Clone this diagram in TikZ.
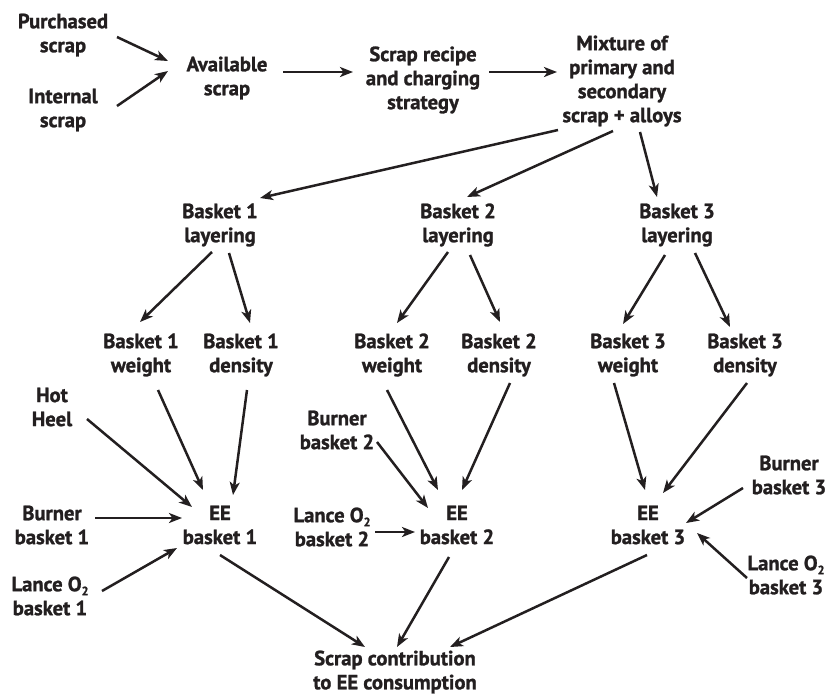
\documentclass[tikz,border=0pt]{standalone}
\usepackage{fontspec}
\setmainfont{PT Sans}[BoldFeatures={FakeBold=1.2}]
\usetikzlibrary{arrows.meta}
\definecolor{ink}{HTML}{231F20}
\tikzset{
  lbl/.style={font=\fontsize{20.6}{24}\selectfont\bfseries, align=center, text=ink, inner sep=0pt},
  conn/.style={draw=ink, line width=2.5pt, -{Stealth[length=13pt,width=10pt,inset=3.5pt]}}
}
\newcommand\arrowlink[4]{\draw[conn] ([shift={#2}]#1.center) -- ([shift={#4}]#3.center);}
\newcommand\oxy{O\raisebox{-4pt}{\fontsize{12}{12}\selectfont 2}}
\begin{document}
\begin{tikzpicture}[x=1pt,y=-1pt]
\fill[white] (0,0) rectangle (827,697);
\useasboundingbox (0,0) rectangle (827,697);
\node[lbl] (purch) at (63,35) {Purchased\\scrap};
\node[lbl] (intern) at (63,110) {Internal\\scrap};
\node[lbl] (avail) at (227,78) {Available\\scrap};
\node[lbl] (recipe) at (423,80) {Scrap recipe\\and charging\\strategy};
\node[lbl] (mix) at (622,81) {Mixture of\\primary and\\secondary\\scrap + alloys};
\node[lbl] (l1) at (220,225) {Basket 1\\layering};
\node[lbl] (l2) at (458,225) {Basket 2\\layering};
\node[lbl] (l3) at (677,225) {Basket 3\\layering};
\node[lbl] (w1) at (141,355) {Basket 1\\weight};
\node[lbl] (d1) at (241,355) {Basket 1\\density};
\node[lbl] (w2) at (392,355) {Basket 2\\weight};
\node[lbl] (d2) at (499,355) {Basket 2\\density};
\node[lbl] (w3) at (628,355) {Basket 3\\weight};
\node[lbl] (d3) at (745,355) {Basket 3\\density};
\node[lbl] (hot) at (52,407) {Hot\\Heel};
\node[lbl] (bb2) at (337,430) {Burner\\basket 2};
\node[lbl] (bb1) at (52,525) {Burner\\basket 1};
\node[lbl] (ee1) at (220,525) {EE\\basket 1};
\node[lbl] (lb2) at (332,527) {Lance \oxy\\basket 2};
\node[lbl] (ee2) at (457,525) {EE\\basket 2};
\node[lbl] (ee3) at (648,525) {EE\\basket 3};
\node[lbl] (bb3) at (789,475) {Burner\\basket 3};
\node[lbl] (lb3) at (786,575) {Lance \oxy\\basket 3};
\node[lbl] (lb1) at (50,596) {Lance \oxy\\basket 1};
\node[lbl] (contrib) at (395,672) {Scrap contribution\\to EE consumption};
\arrowlink{purch}{(54,2)}{avail}{(-59,-17)}
\arrowlink{intern}{(54,-4)}{avail}{(-59,-7)}
\arrowlink{avail}{(56,-6)}{recipe}{(-70,-8)}
\arrowlink{recipe}{(66,-8)}{mix}{(-65,-9)}
\arrowlink{mix}{(-64,49)}{l1}{(40,-27)}
\arrowlink{mix}{(-9,50)}{l2}{(9,-28)}
\arrowlink{mix}{(18,51)}{l3}{(-20,-28)}
\arrowlink{l1}{(-8,27)}{w1}{(-1,-33)}
\arrowlink{l1}{(9,28)}{d1}{(9,-32)}
\arrowlink{l2}{(-10,27)}{w2}{(5,-32)}
\arrowlink{l2}{(12,30)}{d2}{(1,-33)}
\arrowlink{l3}{(-12,30)}{w3}{(-5,-31)}
\arrowlink{l3}{(18,28)}{d3}{(-15,-28)}
\arrowlink{w1}{(17,35)}{ee1}{(-17,-35)}
\arrowlink{d1}{(6,35)}{ee1}{(13,-30)}
\arrowlink{hot}{(35,12)}{ee1}{(-28,-18)}
\arrowlink{bb1}{(43,-7)}{ee1}{(-38,-7)}
\arrowlink{lb1}{(52,-5)}{ee1}{(-43,23)}
\arrowlink{ee1}{(0,30)}{contrib}{(-30,-25)}
\arrowlink{w2}{(-5,35)}{ee2}{(-19,-35)}
\arrowlink{d2}{(11,28)}{ee2}{(5,-35)}
\arrowlink{bb2}{(40,12)}{ee2}{(-29,-17)}
\arrowlink{lb2}{(43,5)}{ee2}{(-42,7)}
\arrowlink{ee2}{(-8,32)}{contrib}{(2,-25)}
\arrowlink{w3}{(-14,28)}{ee3}{(-3,-35)}
\arrowlink{d3}{(2,28)}{ee3}{(15,-32)}
\arrowlink{bb3}{(-46,13)}{ee3}{(38,-2)}
\arrowlink{lb3}{(-39,3)}{ee3}{(49,8)}
\arrowlink{ee3}{(-1,30)}{contrib}{(55,-25)}
\end{tikzpicture}
\end{document}
